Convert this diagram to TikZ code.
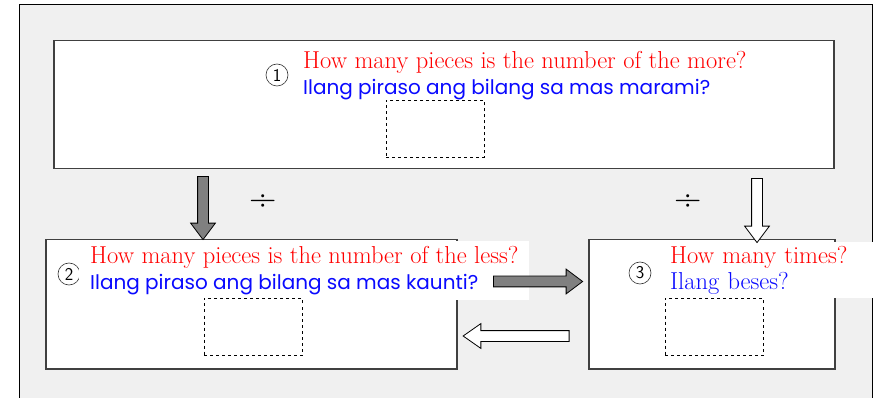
\documentclass[tikz,border=0pt]{standalone}
\usepackage{fontspec}
\newfontfamily\gothic{Poppins}
\usetikzlibrary{shapes.arrows,positioning}
\definecolor{framegray}{HTML}{F0F0F0}
\definecolor{boxedge}{HTML}{404040}
\definecolor{qred}{HTML}{FF0000}
\definecolor{qblue}{HTML}{0A0AFF}
\definecolor{arrowgray}{HTML}{808080}
\newcommand{\redq}[1]{\textcolor{qred}{#1}}
\newcommand{\blueq}[1]{{\color{qblue}\gothic\fontsize{20}{26}\selectfont #1}}

\begin{document}
\begin{tikzpicture}[x=1pt, y=-1pt,
    panel/.style={draw=boxedge, line width=1.5pt, fill=white, anchor=north west, inner sep=0pt},
    answer/.style={draw=black, dashed, line width=0.8pt, minimum width=98pt, minimum height=57pt, inner sep=0pt},
    question/.style={fill=white, anchor=north west, align=left, inner xsep=10pt, inner ysep=4pt, font=\fontsize{24.5}{26}\selectfont},
    stepnum/.style={circle, draw=black!80, line width=0.6pt, minimum size=22pt, inner sep=0pt, font=\sffamily\fontsize{18}{18}\selectfont},
    divsign/.style={font=\fontsize{38}{40}\selectfont, inner sep=0pt},
    fatarrow/.style={single arrow, draw=black, line width=0.8pt, inner sep=5pt, single arrow head extend=7pt, single arrow tip angle=74}]
    \useasboundingbox (0,0) rectangle (876,398);
    \draw[fill=framegray, line width=1pt] (19,5) rectangle (872,405);

    % the three boxes
    \node[panel, minimum width=780pt, minimum height=128pt] (more) at (53,40) {};
    \node[panel, minimum width=411pt, minimum height=129pt] (less) at (45,239) {};
    \node[panel, minimum width=246pt, minimum height=129pt] (times) at (588,239) {};

    \node[stepnum] (one) at (277,75) {1};
    \node[stepnum] (two) at (69,274) {2};
    \node[stepnum] (three) at (640,273) {3};

    % questions
    \node[question, fill=none, inner ysep=6pt] (qmore) at (293,45) {\redq{How many pieces is the number of the more?}\\ \blueq{Ilang piraso ang bilang sa mas marami?}};
    \node[question, inner xsep=11pt, inner ysep=5pt] (qless) at (79,241) {\redq{How many pieces is the number of the less?}\\ \blueq{Ilang piraso ang bilang sa mas kaunti?}};
    \node[question, text width=196pt] (qtimes) at (660,242) {\redq{How many times?}\\ \textcolor{qblue}{Ilang beses?}};

    \node[answer] (ansmore) at (435,129) {};
    \node[answer] (ansless) at (253,327) {};
    \node[answer] (anstimes) at (714,327) {};

    % arrows between the boxes
    \node[fatarrow, fill=arrowgray, shape border rotate=270, minimum height=63pt] (downmore) at (203,204.5) {};
    \node[fatarrow, fill=white, shape border rotate=270, minimum height=64pt] (downtimes) at (757,207) {};
    \node[fatarrow, fill=arrowgray, minimum height=89pt] (toright) at (534.5,281.5) {};
    \node[fatarrow, fill=white, shape border rotate=180, minimum height=106pt, single arrow tip angle=70] (toleft) at (520,336) {};

    \node[divsign] (divleft) at (263,203) {÷};
    \node[divsign] (divright) at (688,203) {÷};
\end{tikzpicture}
\end{document}
